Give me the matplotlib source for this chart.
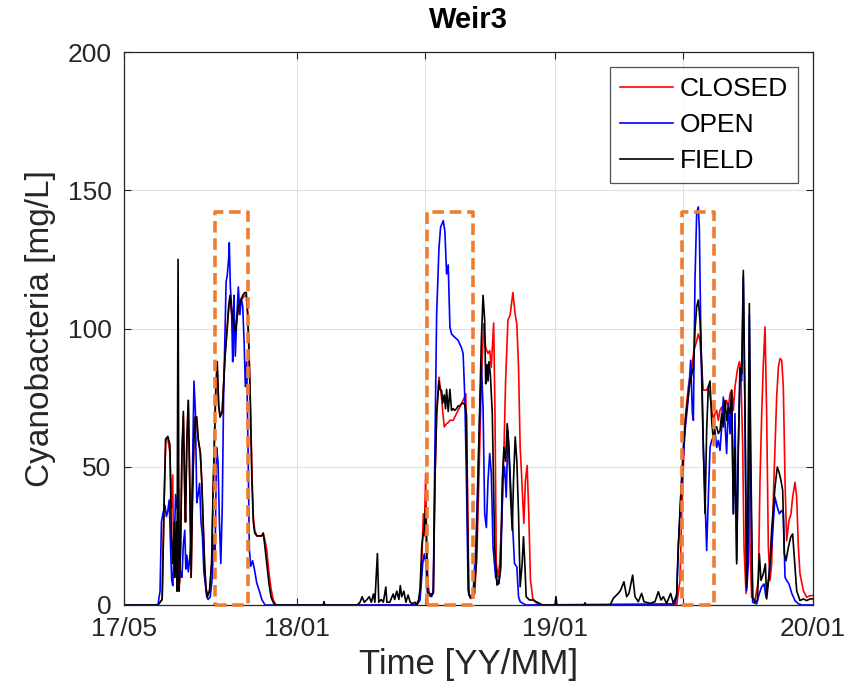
import datetime
import numpy as np
import matplotlib
matplotlib.use("Agg")
import matplotlib.pyplot as plt
import matplotlib.dates as mdates

plt.rcParams['font.family'] = ['Liberation Sans', 'DejaVu Sans']

# ---------------- data (days since 2017-05-01, Cyanobacteria mg/L) ----------------
closed_days = [0, 48, 54, 57, 59, 62, 65, 67, 68.9, 70, 72, 74, 75.5, 77, 78.5, 80, 82, 84, 86, 87, 89, 91, 93, 95,
               97, 99, 101, 103, 105, 108, 110, 112, 114, 116, 118, 121, 124, 126, 128, 130, 132, 134, 136, 139, 141,
               143, 146, 148, 150, 152, 154, 156, 158, 160, 162, 165, 168, 171, 173, 175, 177, 179, 181, 183, 185,
               188, 192, 195, 197, 199, 202, 205, 208, 211, 215,
               414, 417, 419, 421.3, 423.6, 425, 426.9, 428.5, 430, 432.1, 435.3, 437.7, 440, 442.4, 445.7, 449.4,
               451, 453.2, 456.5, 459, 461.2, 465.8, 470.5, 475.2, 479.9, 483.7, 486, 487.9, 491.7, 496.3, 499.6,
               503.4, 505.7, 509, 511.8, 515.1, 517.5, 519.8, 523.1, 525, 526.8, 529.2, 531.5, 533.9, 537.2, 540,
               543.3, 546.5, 550.3, 553.6, 555.9, 558.3, 560.6, 563, 565.8, 568.1, 570.5, 572.8, 575.2, 578.5,
               583.1, 590.2,
               782, 786.8, 789.2, 793.9, 798.6, 803.3, 806.6, 810.4, 812.7, 815.1, 817.5, 819.8, 824.5, 826.9, 829.3,
               831.6, 834, 836.3, 838.7, 841, 843.4, 845.8, 848.1, 850.5, 852.8, 855.2, 857.6, 859.9, 862.3, 864.6,
               867.9, 870.8, 872.7, 875.5, 877.4, 880.2, 882.1, 884, 885.9, 888.2, 892.9, 897.7, 900, 902.4, 904.7,
               907.1, 909.4, 911.8, 914.2, 916.5, 918.9, 921.2, 923.6, 926, 928.3, 930.7, 933, 935.4, 937.7, 941,
               943.9, 946.2, 949.5, 951.9, 954.3, 956.6, 961.3, 966, 970.8, 975]
closed_vals = [0, 0, 2, 40, 60, 60, 55, 35, 47, 20, 10, 25, 5, 30, 8, 20, 55, 68, 40, 30, 60, 74, 45, 10,
               40, 60, 68, 66, 60, 55, 45, 30, 15, 6, 4, 5, 15, 40, 60, 78, 85, 72, 68, 70, 80,
               90, 100, 106, 110, 106, 103, 100, 100, 104, 107, 110, 111, 112, 112, 106, 92, 72, 48, 32, 27,
               25, 25, 25, 26, 24, 20, 12, 6, 2, 0,
               0, 1, 4, 15, 33, 25, 47.5, 20, 8, 4.2, 4, 4.2, 45, 69, 82.4, 75,
               70, 64.4, 65.6, 66, 66.8, 66.8, 69.2, 71.6, 74, 76.4, 45, 4.2, 2.4, 4.2, 21,
               57, 81, 101.7, 93, 91, 92, 86, 102, 69, 15, 10, 15, 27, 51, 81,
               103, 105, 113, 105, 101.7, 86, 57, 45, 29.5, 45, 50.5, 33, 9, 2.4,
               0.8, 0,
               0, 8.9, 33, 66.8, 79, 86, 92, 95.6, 98, 95.6, 86, 77.7, 77.7, 79, 75.2,
               71.6, 66.8, 69.2, 70.4, 66.8, 70.4, 71.6, 68, 71.6, 74, 71.6, 76.4, 77.7, 70.4, 78.9,
               84.9, 88, 86, 57, 21, 4.2, 14.9, 81, 21, 2.8, 1.6, 8.9, 45, 69, 87,
               100.6, 69, 21, 8.9, 14.9, 39, 57, 75.2, 86, 89.1, 88.5, 78.9, 45, 23.2, 30.6,
               33, 39, 44.4, 39, 21, 11.3, 5.2, 2.8, 3.4, 3.4]

open_days = [0, 48, 51, 53, 55, 58, 60, 62, 64, 66, 67.5, 69, 71, 73, 75, 77, 78.5, 80, 82, 84, 86, 87.5, 89, 91,
             93, 95, 97, 99, 101, 103, 105, 107, 109, 111, 113, 115, 117, 119, 122, 125, 127, 129, 131, 133, 135,
             137, 139, 141, 143, 144.5, 146, 148, 149, 150.5, 152, 153.8, 155, 155.6, 157.5, 159.4, 161.8, 164,
             166, 168, 170, 171.7, 173.6, 175.5, 177.4, 179.3, 182, 184.5, 187.8, 191.6, 195, 199.6,
             414, 418.9, 422.7, 425, 427.4, 429.7, 435.3, 437.7, 440, 442.4, 445.7, 448, 451.8, 454.1, 456.5, 458.8,
             461.2, 463.5, 468.2, 472.9, 477.6, 479.9, 482.3, 484.6, 487, 490.2, 494, 497.8, 502, 505.7, 508.1,
             510.4, 512.8, 515.1, 517.5, 519.8, 522.2, 525.9, 530.1, 532.9, 536.2, 538.6, 540.9, 543.3, 545.6,
             547.9, 550.3, 552.6, 555.9, 558.3, 560.6, 564.4, 569.1,
             779.7, 782, 784.4, 789.2, 793.9, 798.6, 801.9, 804.3, 805.7, 808, 810.4, 812.7, 814.2, 816, 817.5,
             819.8, 822.2, 824.5, 826.9, 829.3, 831.6, 834, 836.3, 838.7, 841, 843.4, 845.8, 848.1, 850.5, 852.8,
             855.2, 857.6, 859.9, 862.3, 864.6, 867, 869.3, 871.7, 874.1, 876.4, 878.8, 881.1, 883.5, 884.9, 886.8,
             889.6, 895.3, 899.1, 902.4, 905.7, 908.5, 911.8, 916.5, 921.2, 924.5, 927.4, 930.7, 933, 935.4, 937.7,
             941, 945, 949.5, 954.3, 960, 975]
open_vals = [0, 0, 5, 30, 33, 36, 32, 34, 38, 20, 9, 7, 20, 40, 35, 42, 10, 12, 10, 22, 27, 13, 18, 12,
             17, 25, 50, 81, 70, 37, 40, 44, 30, 25, 12, 8, 3, 2, 3, 10, 25, 20, 57, 52, 30,
             15, 35, 76, 100, 117, 119, 125, 131, 115, 109, 88, 100, 112, 90, 103, 115, 105,
             111, 108, 95, 79, 88, 57, 20, 14, 16, 13, 8, 5, 2, 0,
             0, 1.8, 15, 18.5, 15, 3.6, 3, 5.4, 57, 105, 129, 136.6, 139, 135, 119.7, 123,
             100.5, 98, 96.8, 95.7, 93, 90.9, 75, 45, 5.4, 2.4, 4.2, 21, 57, 87, 71.6,
             33, 28, 45, 54.8, 47.6, 21, 10, 7.8, 12.6, 45, 50, 39, 63, 51,
             39, 27, 15, 13.8, 3, 1.2, 0.6, 0,
             0.4, 3, 21, 45, 63, 75, 88.5, 69.2, 66.8, 117.5, 141.7, 144, 135.6, 103, 81,
             57, 39, 19.7, 39, 57, 59.5, 60.7, 63, 57, 59.5, 55.9, 64.4, 75.2, 65.6, 54.8,
             72.8, 61.9, 75.2, 33, 69.2, 16, 57, 83.6, 81, 118.6, 69.2, 5.2, 14.9, 105, 45,
             1, 0.4, 4.2, 6.6, 7.6, 2.8, 8.9, 21, 39, 35.4, 33, 34.2, 33, 10, 8.9,
             7.6, 4.2, 1.6, 0.4, 0, 0]

field_days = [0, 48, 54, 57, 59, 62, 65, 67, 69, 71, 72, 74, 75, 76.5, 78, 80, 82, 84, 86, 87, 89, 91, 93, 95,
              97, 99, 101, 103, 105, 108, 110, 112, 114, 116, 118, 121, 124, 126, 128, 130, 132, 134, 136, 139,
              141, 143, 146, 148, 150, 152, 154, 156, 158, 160, 162, 165, 168, 171, 173, 175, 177, 179, 181, 183,
              185, 188, 192, 195, 197, 199, 202, 205, 208, 211, 214,
              282, 283, 284, 330, 334, 337, 340, 344, 347, 350, 353, 355, 358.6, 360.5, 364, 367, 370.5, 372, 376,
              381, 383, 386, 389, 391, 393, 396, 399, 402, 405, 408, 412, 414,
              417, 419, 421.3, 423, 424.6, 426.9, 428.3, 429.7, 432, 435.3, 437.7, 440, 442.4, 445.7, 447, 449.4,
              451, 453.2, 455, 456.5, 458.8, 461.2, 463.5, 465.8, 468.2, 470.5, 472.9, 475.2, 477.6, 480, 482.3,
              484.6, 486, 487.9, 491.7, 495, 498.7, 502, 505.7, 508.1, 510.4, 511.8, 513.7, 515.1, 516.5, 518.4,
              521.2, 524.5, 527.8, 530.6, 532.9, 535.3, 537.6, 540, 542.3, 544.7, 547, 549.4, 551.2, 553.6, 555.9,
              558.3, 560.6, 563.4, 565.3, 567.2, 569.1, 573.8, 578.5, 583.1, 592.5,
              610, 611.3, 612.5, 651, 652.3, 653.5, 688, 692.4, 699.5, 702.8, 707.5, 711.3, 714.6, 719.8, 723.1,
              727.8, 732.5, 735.8, 744.3, 751.4, 756.1, 759.9, 763.2, 767.9, 773.6, 777.3, 781.1,
              782.1, 784.4, 787.7, 791.5, 795.3, 800, 803.3, 805.7, 808, 810.4, 812.7, 815.1, 817.5, 819.8, 822.2,
              824.5, 826.9, 829.3, 831.6, 834, 836.3, 838.7, 841, 843.4, 845.8, 848.1, 850.5, 852.8, 855.2, 857.6,
              859.9, 862.3, 864.6, 867, 869.3, 871.7, 874.1, 876.4, 878.8, 881.1, 883.5, 884.9, 886.8, 889.6,
              892.9, 896.2, 899.1, 901.4, 904.7, 907.6, 909.4, 913.2, 916.5, 921.2, 924.5, 927.4, 929.7, 932.1,
              934.4, 936.8, 940.1, 943.4, 946.2, 948.6, 951.9, 956.6, 961.3, 966, 970.8, 975]
field_vals = [0, 0, 2, 40, 60, 61, 58, 25, 15, 30, 10, 30, 5, 125, 5, 20, 55, 70, 40, 30, 60, 74, 45, 10,
              40, 60, 68, 68, 60, 55, 45, 30, 15, 6, 3, 5, 15, 40, 60, 80, 88, 72, 68, 70,
              80, 90, 100, 108, 112, 108, 104, 100, 99, 104, 108, 110, 112, 113, 113, 105, 90, 70, 45, 30,
              26, 25, 25, 25, 26, 22, 15, 8, 3, 1, 0,
              0, 1.2, 0, 0, 1, 3, 1, 2, 3, 1, 4, 1, 18.6, 1, 2, 1, 6.5, 1, 1,
              4, 2, 5, 2, 7, 3, 5, 1, 3.6, 1, 0.5, 1, 0,
              2, 6, 21, 25, 27, 35.5, 20, 4.8, 4, 3.6, 4.2, 45, 69, 81, 78, 77.6,
              73, 76, 71, 78, 70, 78, 70.4, 71, 70.4, 71, 72, 72, 72.8, 73, 72.4,
              69, 33, 3.6, 2.4, 4.2, 15, 57, 95.7, 112, 103, 80, 87, 81, 88, 83.6,
              69, 21, 7.2, 7.8, 13.8, 45, 57, 52, 65.6, 57, 39, 27, 45, 60.8, 52,
              33, 6.6, 15, 24.7, 15, 3, 1.8, 1.8, 1.2, 0,
              0, 3, 0, 0, 0.8, 0, 0, 2.4, 4.2, 5.4, 8.4, 3, 4.2, 10.8, 3,
              1.2, 4.2, 1.2, 0.6, 1.2, 4.8, 1.8, 3, 0.6, 4.2, 0.6, 3,
              3.9, 21, 39, 57, 69, 79, 83, 86, 99.4, 107.9, 110.3, 103, 87, 57, 33,
              63, 79, 81, 66.8, 59.5, 64.4, 64.4, 62, 63, 69.2, 64.4, 74, 66.8, 71.6, 69.2,
              77.7, 33, 57, 14.9, 57, 86, 83.6, 121, 69.2, 6.4, 45, 109, 57, 2.8,
              1, 1.6, 18.5, 8.9, 11.3, 14.9, 2.2, 11.3, 27, 42.6, 49.9, 47.6, 45, 41.4,
              18.5, 16, 20.8, 24.5, 25.7, 17, 5.2, 1.6, 2.2, 1.6, 2.2, 2.2]

# highlighted windows (days since 2017-05-01) and their height
box_start = [128.8, 429.0, 789.4]
box_end = [175.3, 493.5, 835.0]
box_top = 142

start_date = datetime.date(2017, 5, 1)
tick_dates = [datetime.date(2017, 5, 1), datetime.date(2018, 1, 1), datetime.date(2018, 7, 1),
              datetime.date(2019, 1, 1), datetime.date(2019, 7, 1), datetime.date(2020, 1, 1)]
tick_labels = ['17/05', '18/01', '', '19/01', '', '20/01']
y_ticks = [0, 50, 100, 150, 200]

# ---------------- plot ----------------
base = mdates.date2num(start_date)
fig = plt.figure(figsize=(8.56, 6.94), dpi=100)
ax = fig.add_axes([124 / 856, 89 / 694, (813 - 124) / 856, (605 - 52) / 694])

ax.plot(base + np.array(closed_days), closed_vals, color='#FF0000', lw=1.2, label='CLOSED')
ax.plot(base + np.array(open_days), open_vals, color='#0000FF', lw=1.2, label='OPEN')
ax.plot(base + np.array(field_days), field_vals, color='#000000', lw=1.2, label='FIELD')

for s, e in zip(box_start, box_end):
    xs = base + np.array([s, e, e, s, s])
    ax.plot(xs, [0, 0, box_top, box_top, 0], color='#ED7D31', lw=2.6,
            linestyle=(0, (3.2, 1.6)), clip_on=False, zorder=5)

ax.set_xlim(base, base + 975)
ax.set_ylim(0, 200)
ax.set_xticks([mdates.date2num(d) for d in tick_dates])
ax.set_xticklabels(tick_labels)
ax.set_yticks(y_ticks)

ax.grid(True, color='#E0E0E0', lw=0.8)
ax.set_axisbelow(True)
ax.tick_params(direction='in', top=True, right=True, length=5, width=0.8,
               labelsize=19, colors='#262626', pad=9)
for sp in ax.spines.values():
    sp.set_color('#262626')
    sp.set_linewidth(0.9)

ax.set_title('Weir3', fontsize=21, fontweight='bold', pad=17)
ax.set_xlabel('Time [YY/MM]', fontsize=25, color='#262626', labelpad=5)
ax.set_ylabel('Cyanobacteria [mg/L]', fontsize=24, color='#262626', labelpad=8)

leg = ax.legend(loc='upper right', fontsize=19, handlelength=2.0, handletextpad=0.25,
                labelspacing=0.45, borderaxespad=0.55, borderpad=0.4, fancybox=False)
leg.get_frame().set_edgecolor('#262626')
leg.get_frame().set_linewidth(0.9)

fig.savefig('out.png', dpi=100)
